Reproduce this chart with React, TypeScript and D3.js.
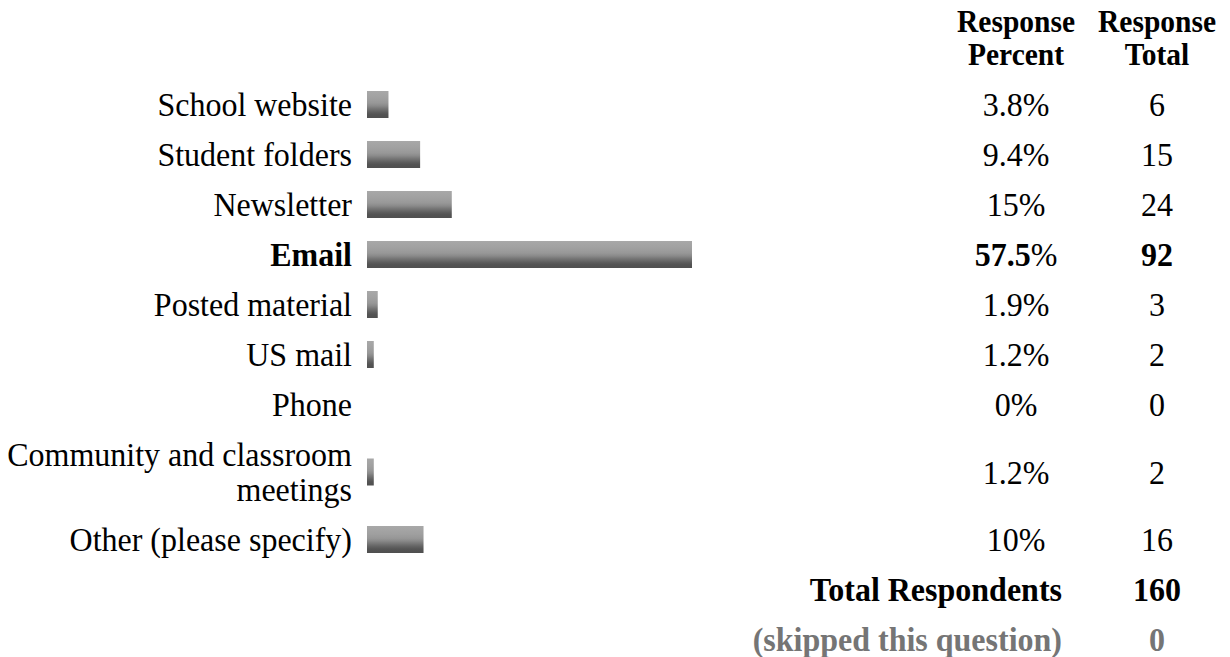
import React from 'react';
import * as d3 from 'd3';

const categories: string[][] = [
  ['School website'],
  ['Student folders'],
  ['Newsletter'],
  ['Email'],
  ['Posted material'],
  ['US mail'],
  ['Phone'],
  ['Community and classroom', 'meetings'],
  ['Other (please specify)'],
];
const percents = [3.8, 9.4, 15, 57.5, 1.9, 1.2, 0, 1.2, 10];
const totals = [6, 15, 24, 92, 3, 2, 0, 2, 16];
const headerPercent = ['Response', 'Percent'];
const headerTotal = ['Response', 'Total'];
const totalRespondents = 160;
const skipped = 0;

const W = 1230;
const H = 657;
const FONT = '"Liberation Serif", "Times New Roman", serif';
const STRETCH = 1.08;

// text slightly stretched vertically around its baseline, like the source
const T: React.FC<{ x: number; y: number; anchor?: string; children: React.ReactNode }> = ({ x, y, anchor = 'start', children }) => (
  <g transform={`translate(${x},${y}) scale(1,${STRETCH})`}>
    <text x={0} y={0} textAnchor={anchor}>{children}</text>
  </g>
);

const App: React.FC = () => {
  const labelRight = 352;
  const barLeft = 367;
  const pctX = 1016;
  const totX = 1157;
  const lineH = 35;
  const rowH = 50;
  const barH = 27;

  const maxPct = d3.max(percents) ?? 1;
  const xScale = d3.scaleLinear().domain([0, maxPct]).range([0, 325]);

  // row tops, taller rows for wrapped labels
  let y = 81;
  const rows = categories.map((lines, i) => {
    const h = rowH + lineH * (lines.length - 1);
    const r = { lines, i, top: y, h };
    y += h;
    return r;
  });
  const footTop = y;

  const stops: [number, string][] = [
    [0, '#a8a8a8'], [0.15, '#a4a4a4'], [0.3, '#9f9f9f'], [0.45, '#979797'],
    [0.55, '#8a8a8a'], [0.62, '#7c7c7c'], [0.7, '#6d6d6d'], [0.78, '#5f5f5f'],
    [0.86, '#545454'], [1, '#4f4f4f'],
  ];

  return (
    <svg width={W} height={H} style={{ position: 'absolute', left: 0, top: 0, background: '#fff' }}
      fontFamily={FONT} fontSize={32}>
      <defs>
        <linearGradient id="barGrad" x1="0" y1="0" x2="0" y2="1">
          {stops.map(([o, c]) => <stop key={o} offset={o} stopColor={c} />)}
        </linearGradient>
      </defs>

      {/* header */}
      <g fontWeight="bold" fontSize={29.5}>
        {headerPercent.map((t, k) => <T key={'p' + k} x={pctX} y={32 + k * 33} anchor="middle">{t}</T>)}
        {headerTotal.map((t, k) => <T key={'t' + k} x={totX} y={32 + k * 33} anchor="middle">{t}</T>)}
      </g>

      {rows.map(r => {
        const bold = percents[r.i] === maxPct;
        const mid = r.top + r.h / 2;
        const w = percents[r.i] > 0 ? Math.max(6, xScale(percents[r.i])) : 0;
        return (
          <g key={r.i} fontWeight={bold ? 'bold' : 'normal'}>
            {r.lines.map((t, k) => (
              <T key={k} x={labelRight} y={r.top + 35 + k * lineH} anchor="end">{t}</T>
            ))}
            {w > 0 && (
              <rect x={barLeft} y={mid - 1.5 - barH / 2} width={w} height={barH} fill="url(#barGrad)" />
            )}
            <T x={pctX} y={mid + 10} anchor="middle">
              {String(percents[r.i])}<tspan fontWeight="normal">%</tspan>
            </T>
            <T x={totX} y={mid + 10} anchor="middle">{totals[r.i]}</T>
          </g>
        );
      })}

      <g fontWeight="bold">
        <T x={1062} y={footTop + 35} anchor="end">Total Respondents</T>
        <T x={totX} y={footTop + 35} anchor="middle">{totalRespondents}</T>
        <g fill="#757575">
          <T x={1062} y={footTop + 85} anchor="end">(skipped this question)</T>
          <T x={totX} y={footTop + 85} anchor="middle">{skipped}</T>
        </g>
      </g>
    </svg>
  );
};

export default App;
